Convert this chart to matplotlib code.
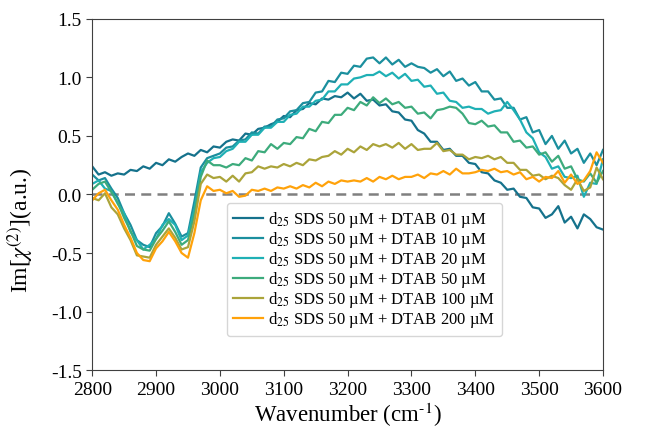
import matplotlib
matplotlib.use("Agg")
import matplotlib.pyplot as plt
import numpy as np

plt.rcParams['font.family'] = ['Liberation Serif', 'DejaVu Serif']
plt.rcParams['mathtext.fontset'] = 'stix'
plt.rcParams['axes.unicode_minus'] = False

wavenumber = np.arange(2800, 3601, 10)

dtab_01 = [0.24, 0.17, 0.19, 0.16, 0.18, 0.17, 0.21, 0.20, 0.24, 0.22,
           0.27, 0.25, 0.30, 0.28, 0.32, 0.35, 0.33, 0.38, 0.36, 0.41,
           0.40, 0.45, 0.47, 0.46, 0.52, 0.51, 0.56, 0.57, 0.60, 0.62,
           0.67, 0.66, 0.72, 0.73, 0.78, 0.77, 0.82, 0.81, 0.84, 0.83,
           0.87, 0.82, 0.86, 0.80, 0.81, 0.76, 0.77, 0.71, 0.70, 0.64,
           0.63, 0.55, 0.52, 0.45, 0.45, 0.38, 0.39, 0.33, 0.33, 0.27,
           0.26, 0.19, 0.18, 0.12, 0.10, 0.04, 0.05, -0.02, -0.03, -0.11,
           -0.12, -0.20, -0.17, -0.10, -0.24, -0.19, -0.29, -0.17, -0.21, -0.28,
           -0.30]
dtab_10 = [0.17, 0.12, 0.14, 0.05, -0.03, -0.16, -0.26, -0.39, -0.43, -0.45,
           -0.33, -0.27, -0.16, -0.25, -0.36, -0.33, -0.06, 0.23, 0.31, 0.33,
           0.35, 0.40, 0.41, 0.46, 0.47, 0.53, 0.52, 0.58, 0.58, 0.64,
           0.65, 0.71, 0.72, 0.78, 0.79, 0.87, 0.88, 0.97, 0.96, 1.04,
           1.03, 1.10, 1.09, 1.16, 1.17, 1.12, 1.17, 1.11, 1.15, 1.09,
           1.12, 1.09, 1.08, 1.04, 1.07, 1.01, 1.05, 0.97, 0.99, 0.93,
           0.96, 0.88, 0.88, 0.81, 0.82, 0.74, 0.74, 0.64, 0.66, 0.53,
           0.55, 0.43, 0.50, 0.39, 0.46, 0.35, 0.39, 0.27, 0.35, 0.25,
           0.38]
dtab_20 = [0.09, 0.12, 0.05, 0.03, -0.08, -0.16, -0.32, -0.39, -0.47, -0.43,
           -0.38, -0.26, -0.21, -0.26, -0.39, -0.35, -0.13, 0.19, 0.27, 0.31,
           0.32, 0.37, 0.39, 0.45, 0.45, 0.51, 0.51, 0.57, 0.57, 0.62,
           0.62, 0.68, 0.69, 0.75, 0.75, 0.80, 0.81, 0.88, 0.88, 0.94,
           0.94, 0.99, 1.00, 1.02, 1.02, 1.05, 1.01, 1.04, 0.99, 1.03,
           0.97, 0.98, 0.92, 0.93, 0.86, 0.87, 0.80, 0.79, 0.74, 0.75,
           0.73, 0.73, 0.69, 0.71, 0.72, 0.79, 0.72, 0.64, 0.53, 0.48,
           0.36, 0.32, 0.22, 0.24, 0.15, 0.14, 0.16, -0.02, 0.10, 0.09,
           0.30]
dtab_50 = [0.04, 0.09, 0.11, 0.02, -0.07, -0.20, -0.31, -0.44, -0.47, -0.48,
           -0.38, -0.31, -0.23, -0.32, -0.43, -0.39, -0.17, 0.15, 0.29, 0.25,
           0.25, 0.23, 0.26, 0.25, 0.31, 0.29, 0.37, 0.36, 0.43, 0.39,
           0.44, 0.43, 0.49, 0.48, 0.56, 0.54, 0.62, 0.61, 0.68, 0.68,
           0.74, 0.72, 0.79, 0.76, 0.83, 0.78, 0.82, 0.77, 0.79, 0.74,
           0.75, 0.69, 0.70, 0.65, 0.72, 0.73, 0.75, 0.74, 0.69, 0.61,
           0.60, 0.63, 0.58, 0.59, 0.53, 0.53, 0.45, 0.46, 0.40, 0.41,
           0.34, 0.36, 0.28, 0.33, 0.22, 0.24, 0.13, 0.11, 0.18, 0.10,
           0.20]
dtab_100 = [-0.03, -0.05, 0.01, -0.11, -0.17, -0.29, -0.39, -0.52, -0.53, -0.54,
            -0.43, -0.36, -0.29, -0.37, -0.47, -0.45, -0.23, 0.09, 0.17, 0.14,
            0.15, 0.11, 0.16, 0.11, 0.18, 0.19, 0.24, 0.22, 0.24, 0.23,
            0.26, 0.24, 0.27, 0.25, 0.30, 0.29, 0.32, 0.33, 0.37, 0.34,
            0.39, 0.36, 0.41, 0.38, 0.43, 0.41, 0.43, 0.40, 0.44, 0.39,
            0.43, 0.38, 0.39, 0.39, 0.44, 0.37, 0.38, 0.34, 0.34, 0.30,
            0.32, 0.31, 0.33, 0.30, 0.32, 0.27, 0.27, 0.21, 0.21, 0.16,
            0.17, 0.13, 0.16, 0.14, 0.08, 0.04, 0.13, 0.03, 0.06, 0.23,
            0.13]
dtab_200 = [-0.05, 0.01, 0.04, -0.05, -0.13, -0.26, -0.37, -0.50, -0.56, -0.57,
            -0.46, -0.40, -0.32, -0.40, -0.50, -0.54, -0.33, -0.05, 0.07, 0.03,
            0.04, 0.01, 0.03, -0.02, -0.01, 0.04, 0.03, 0.05, 0.03, 0.06,
            0.05, 0.07, 0.05, 0.08, 0.06, 0.10, 0.07, 0.11, 0.09, 0.12,
            0.11, 0.12, 0.11, 0.14, 0.11, 0.15, 0.13, 0.16, 0.13, 0.15,
            0.15, 0.17, 0.14, 0.18, 0.17, 0.20, 0.17, 0.22, 0.18, 0.18,
            0.19, 0.21, 0.20, 0.22, 0.19, 0.20, 0.17, 0.19, 0.13, 0.15,
            0.11, 0.15, 0.14, 0.20, 0.10, 0.17, 0.09, 0.12, 0.20, 0.36,
            0.27]

series = [dtab_01, dtab_10, dtab_20, dtab_50, dtab_100, dtab_200]
labels = ['d$_{25}$ SDS 50 \u00b5M + DTAB 01 \u00b5M',
          'd$_{25}$ SDS 50 \u00b5M + DTAB 10 \u00b5M',
          'd$_{25}$ SDS 50 \u00b5M + DTAB 20 \u00b5M',
          'd$_{25}$ SDS 50 \u00b5M + DTAB 50 \u00b5M',
          'd$_{25}$ SDS 50 \u00b5M + DTAB 100 \u00b5M',
          'd$_{25}$ SDS 50 \u00b5M + DTAB 200 \u00b5M']
colors = ['#15728c', '#1b8f9e', '#1fb0b5', '#3dab7c', '#aba43a', '#ffa20a']

fig, ax = plt.subplots(figsize=(6.54, 4.31), dpi=100)
fig.subplots_adjust(left=0.141, right=0.922, top=0.954, bottom=0.139)

ax.axhline(0, color='#808080', lw=1.8, dashes=(4, 2.5), zorder=1)
for vals, lab, c in zip(series, labels, colors):
    ax.plot(wavenumber, vals, color=c, lw=1.6, label=lab)

ax.set_xlim(2800, 3600)
ax.set_ylim(-1.5, 1.5)
ax.set_xticks(np.arange(2800, 3601, 100))
ax.set_yticks(np.arange(-1.5, 1.51, 0.5))
ax.tick_params(labelsize=14, direction='out', length=4, color='0.25')
for s in ax.spines.values():
    s.set_color('0.25')

ax.set_xlabel('Wavenumber (cm$^{\\text{-}1}$)', fontsize=16.5, labelpad=2)
ax.set_ylabel('Im[$\\chi^{(2)}$](a.u.)', fontsize=17)
ax.yaxis.set_label_coords(-0.112, 0.4)

ax.legend(loc='upper left', bbox_to_anchor=(0.247, 0.5), fontsize=12,
          handlelength=1.8, labelspacing=0.0, handletextpad=0.3,
          borderpad=0.4)

fig.savefig('out.png', dpi=100)
